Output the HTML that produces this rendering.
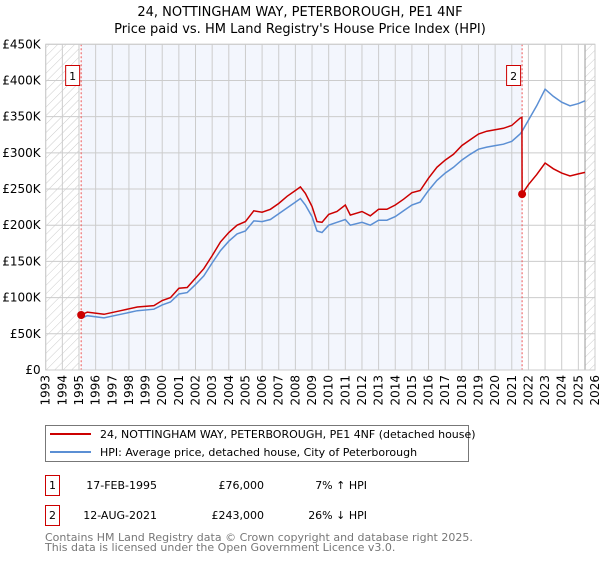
<!DOCTYPE html>
<html><head><meta charset="utf-8"><style>
body{margin:0;background:#fff;font-family:"DejaVu Sans","Liberation Sans",sans-serif;}
svg text{font-family:"DejaVu Sans","Liberation Sans",sans-serif;}
</style></head><body>
<svg id="chart" width="600" height="560" viewBox="0 0 600 560" xmlns="http://www.w3.org/2000/svg">
<defs><pattern id="hatch" patternUnits="userSpaceOnUse" width="6" height="6" patternTransform="rotate(45)"><line x1="0" y1="0" x2="0" y2="6" stroke="#ccc" stroke-width="1"/></pattern></defs>
<text x="300" y="16" text-anchor="middle" font-size="13">24, NOTTINGHAM WAY, PETERBOROUGH, PE1 4NF</text>
<text x="300" y="33" text-anchor="middle" font-size="13">Price paid vs. HM Land Registry's House Price Index (HPI)</text>
<g id="plot"></g>
<rect x="45.5" y="425.5" width="423" height="36" fill="#fff" stroke="#777"/>
<line x1="50" y1="434" x2="91" y2="434" stroke="#cc0000" stroke-width="2"/>
<text x="100" y="438" font-size="11">24, NOTTINGHAM WAY, PETERBOROUGH, PE1 4NF (detached house)</text>
<line x1="50" y1="452" x2="91" y2="452" stroke="#5b8fd4" stroke-width="2"/>
<text x="100" y="456" font-size="11">HPI: Average price, detached house, City of Peterborough</text>
<g font-size="11">
<rect x="45.5" y="475.5" width="14" height="20" fill="none" stroke="#cc0000"/>
<text x="52.5" y="489" text-anchor="middle">1</text>
<text x="157" y="489" text-anchor="end">17-FEB-1995</text>
<text x="264" y="489" text-anchor="end">£76,000</text>
<text x="367" y="489" text-anchor="end">7% ↑ HPI</text>
</g>
<g font-size="11">
<rect x="45.5" y="505.5" width="14" height="20" fill="none" stroke="#cc0000"/>
<text x="52.5" y="519" text-anchor="middle">2</text>
<text x="157" y="519" text-anchor="end">12-AUG-2021</text>
<text x="264" y="519" text-anchor="end">£243,000</text>
<text x="367" y="519" text-anchor="end">26% ↓ HPI</text>
</g>
<text x="45" y="541" font-size="11" fill="#777">Contains HM Land Registry data © Crown copyright and database right 2025.</text>
<text x="45" y="551" font-size="11" fill="#777">This data is licensed under the Open Government Licence v3.0.</text>
</svg>
<script>
const hpiYears=[1995.1,1995.5,1996.5,1997.5,1998.5,1999.5,2000.0,2000.5,2001.0,2001.5,2002.0,2002.5,2003.0,2003.5,2004.0,2004.5,2005.0,2005.5,2006.0,2006.5,2007.0,2007.5,2008.0,2008.3,2008.6,2009.0,2009.3,2009.6,2010.0,2010.5,2011.0,2011.3,2012.0,2012.5,2013.0,2013.5,2014.0,2014.5,2015.0,2015.5,2016.0,2016.5,2017.0,2017.5,2018.0,2018.5,2019.0,2019.5,2020.0,2020.5,2021.0,2021.5,2021.62,2022.0,2022.5,2023.0,2023.5,2024.0,2024.5,2025.0,2025.4];
const hpiValues=[71,75,72,77,82,84,90,94,105,107,118,130,148,165,178,188,192,206,205,208,216,224,232,237,228,212,192,190,200,204,208,200,204,200,207,207,212,220,228,232,248,262,272,280,290,298,305,308,310,312,316,326,330,345,365,388,378,370,365,368,372];
const redYears=[1995.13,1995.5,1996.5,1997.5,1998.5,1999.5,2000.0,2000.5,2001.0,2001.5,2002.0,2002.5,2003.0,2003.5,2004.0,2004.5,2005.0,2005.5,2006.0,2006.5,2007.0,2007.5,2008.0,2008.3,2008.6,2009.0,2009.3,2009.6,2010.0,2010.5,2011.0,2011.3,2012.0,2012.5,2013.0,2013.5,2014.0,2014.5,2015.0,2015.5,2016.0,2016.5,2017.0,2017.5,2018.0,2018.5,2019.0,2019.5,2020.0,2020.5,2021.0,2021.5,2021.61,2021.62,2022.0,2022.5,2023.0,2023.5,2024.0,2024.5,2025.0,2025.4];
const redValues=[76,80,77,82,87,89,96,100,113,114,127,140,158,177,190,200,205,220,218,222,230,240,248,253,244,226,205,204,215,219,228,214,219,213,222,222,228,236,245,248,265,280,290,298,310,318,326,330,332,334,338,348,349,243,256,270,286,278,272,268,271,273];
const saleYears=[1995.13,2021.62];
const saleValues=[76,243];
const yTicks=[0,50,100,150,200,250,300,350,400,450];
const yTickLabels=["£0","£50K","£100K","£150K","£200K","£250K","£300K","£350K","£400K","£450K"];
const xTicks=[1993,1994,1995,1996,1997,1998,1999,2000,2001,2002,2003,2004,2005,2006,2007,2008,2009,2010,2011,2012,2013,2014,2015,2016,2017,2018,2019,2020,2021,2022,2023,2024,2025,2026];

const L=45.7,R=595,T=44.3,B=370;
const x=v=>L+(v-1993)*(R-L)/33;
const y=v=>B-v*(B-T)/450;
const NS='http://www.w3.org/2000/svg';
const g=document.getElementById('plot');
function mk(tag,attrs,parent){const e=document.createElementNS(NS,tag);for(const k in attrs)e.setAttribute(k,attrs[k]);(parent||g).appendChild(e);return e;}

let e;
e=mk('rect',{x:L,y:T,width:R-L,height:B-T,fill:'#fff'});


e=mk('rect',{x:x(saleYears[0]),y:T,width:x(saleYears[1])-x(saleYears[0]),height:B-T,fill:'#f3f6fd'});


e=mk('rect',{x:L,y:T,width:x(1995)-L,height:B-T,fill:'url(#hatch)'});


e=mk('rect',{x:x(2025.4),y:T,width:R-x(2025.4),height:B-T,fill:'url(#hatch)'});


mk('line',{x1:x(1995),y1:T,x2:x(1995),y2:B,stroke:'#999','stroke-width':1});
mk('line',{x1:x(2025.4),y1:T,x2:x(2025.4),y2:B,stroke:'#999','stroke-width':1});

xTicks.forEach(t=>{
  e=mk('line',{x1:x(t),y1:T,x2:x(t),y2:B,stroke:'#ccc','stroke-width':1});
  
  
  e=mk('text',{x:0,y:0,'font-size':12,'text-anchor':'end',transform:`translate(${x(t)+4},${B+5}) rotate(-90)`});
  e.textContent=t;
  
  
});
yTicks.forEach((t,i)=>{
  e=mk('line',{x1:L,y1:y(t),x2:R,y2:y(t),stroke:'#ccc','stroke-width':1});
  
  
  e=mk('text',{x:L-5,y:y(t)+4,'font-size':12,'text-anchor':'end'});
  e.textContent=yTickLabels[i];
  
  
});
saleYears.forEach((s,i)=>{
  e=mk('line',{x1:x(s),y1:T,x2:x(s),y2:B,stroke:'#ee5555','stroke-width':1,'stroke-dasharray':'2,2'});
  
  
});
const pts=(xs,vs)=>xs.map((v,i)=>x(v).toFixed(1)+','+y(vs[i]).toFixed(1)).join(' ');
e=mk('polyline',{points:pts(hpiYears,hpiValues),fill:'none',stroke:'#5b8fd4','stroke-width':1.5});


e=mk('polyline',{points:pts(redYears,redValues),fill:'none',stroke:'#cc0000','stroke-width':1.5});


saleYears.forEach((s,i)=>{
  e=mk('circle',{cx:x(s),cy:y(saleValues[i]),r:4,fill:'#cc0000'});
  
  
  const bx=x(s)-16;
  e=mk('rect',{x:bx+0.5,y:65.5,width:14,height:20,fill:'#fff',stroke:'#cc0000'});
  
  
  e=mk('text',{x:bx+7.5,y:80,'font-size':11,'text-anchor':'middle'});
  e.textContent=String(i+1);
  
  
});
e=mk('rect',{x:L,y:T,width:R-L,height:B-T,fill:'none',stroke:'#ccc'});
</script>
</body></html>
